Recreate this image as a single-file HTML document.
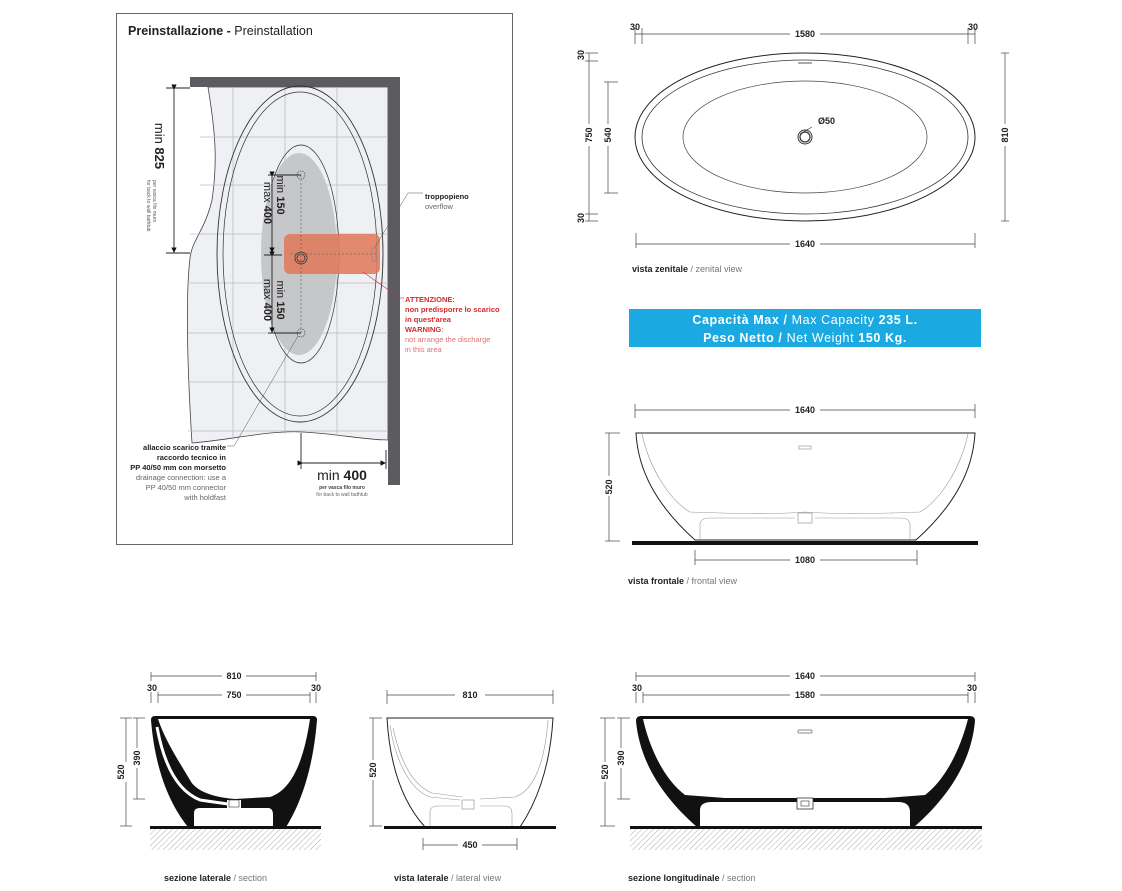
<!DOCTYPE html>
<html><head><meta charset="utf-8"><style>
html,body{margin:0;padding:0;background:#fff;}
svg{display:block;font-family:"Liberation Sans Narrow","Liberation Sans",sans-serif;}
.d{font-size:9px;fill:#222;font-weight:bold;}
.dl{stroke:#444;stroke-width:0.7;fill:none;}
.lab{font-size:9px;fill:#222;}
</style></head><body>
<svg width="1122" height="891" viewBox="0 0 1122 891">
<defs>
<pattern id="hat" patternUnits="userSpaceOnUse" width="4" height="4" patternTransform="rotate(45)">
<line x1="0" y1="0" x2="0" y2="4" stroke="#999" stroke-width="0.8"/>
</pattern>
<marker id="ar" markerWidth="6" markerHeight="6" refX="5" refY="3" orient="auto"><path d="M0,0 L6,3 L0,6 Z" fill="#111"/></marker>
</defs>

<!-- PREINSTALLATION -->
<rect x="116.5" y="13.5" width="396" height="531" fill="#fff" stroke="#666" stroke-width="1"/>
<text x="128" y="35" font-size="12.5" fill="#222"><tspan font-weight="bold">Preinstallazione - </tspan>Preinstallation</text>
<path d="M208,87 C215,130 218,160 212,200 C205,230 192,240 190,258 C185,300 188,380 192,443 C230,440 270,430 302,432 C340,434 365,440 388,440 L388,87 Z" fill="#eef0f3" stroke="#444" stroke-width="0.8"/>
<g stroke="#b8bcc2" stroke-width="0.8">
<line x1="233" y1="87" x2="233" y2="440"/><line x1="285" y1="87" x2="285" y2="434"/><line x1="337" y1="87" x2="337" y2="434"/>
<line x1="200" y1="137" x2="388" y2="137"/><line x1="200" y1="185" x2="388" y2="185"/><line x1="190" y1="234" x2="388" y2="234"/><line x1="188" y1="283" x2="388" y2="283"/><line x1="188" y1="333" x2="388" y2="333"/><line x1="188" y1="382" x2="388" y2="382"/><line x1="188" y1="431" x2="388" y2="431"/>
</g>
<rect x="190" y="77" width="210" height="10" fill="#5c5c60"/>
<rect x="388" y="77" width="12" height="408" fill="#5c5c60"/>
<ellipse cx="300" cy="254" rx="83" ry="168" fill="none" stroke="#333" stroke-width="0.9"/>
<ellipse cx="300" cy="254" rx="77" ry="162" fill="none" stroke="#333" stroke-width="0.7"/>
<ellipse cx="301" cy="254" rx="38" ry="109" fill="none" stroke="#333" stroke-width="0.7"/>
<ellipse cx="299" cy="254" rx="38" ry="101" fill="#c6c7c9"/>
<rect x="284" y="234" width="96" height="40" rx="6" fill="#e07a5c" opacity="0.88"/>
<line x1="301" y1="175" x2="301" y2="333" stroke="#555" stroke-width="0.6" stroke-dasharray="2,2"/>
<line x1="290" y1="254" x2="376" y2="254" stroke="#555" stroke-width="0.5" stroke-dasharray="2,2"/>
<rect x="372" y="248" width="4" height="13" fill="none" stroke="#888" stroke-width="0.6"/>
<circle cx="301" cy="258" r="6" fill="none" stroke="#333" stroke-width="0.8"/><circle cx="301" cy="258" r="4" fill="none" stroke="#333" stroke-width="0.8"/>
<circle cx="301" cy="175" r="4" fill="none" stroke="#333" stroke-width="0.6" stroke-dasharray="1.5,1"/>
<circle cx="301" cy="333" r="4" fill="none" stroke="#333" stroke-width="0.6" stroke-dasharray="1.5,1"/>
<g stroke="#222" stroke-width="0.9">
<line x1="268" y1="175" x2="301" y2="175"/><line x1="268" y1="333" x2="301" y2="333"/>
<line x1="272" y1="176" x2="272" y2="252" marker-end="url(#ar)" marker-start="url(#ar)"/>
<line x1="272" y1="256" x2="272" y2="332" marker-end="url(#ar)" marker-start="url(#ar)"/>
<line x1="264" y1="255" x2="282" y2="255"/>
<line x1="166" y1="88" x2="190" y2="88"/><line x1="166" y1="253" x2="190" y2="253"/>
<line x1="174" y1="89" x2="174" y2="252" marker-end="url(#ar)" marker-start="url(#ar)"/>
<line x1="301" y1="433" x2="301" y2="469"/><line x1="386" y1="450" x2="386" y2="469"/>
<line x1="302" y1="463" x2="385" y2="463" marker-end="url(#ar)" marker-start="url(#ar)"/>
</g>
<text transform="translate(277,195) rotate(90)" font-size="11" fill="#222" text-anchor="middle">min <tspan font-weight="bold">150</tspan></text>
<text transform="translate(264,203) rotate(90)" font-size="11" fill="#222" text-anchor="middle">max <tspan font-weight="bold">400</tspan></text>
<text transform="translate(277,300) rotate(90)" font-size="11" fill="#222" text-anchor="middle">min <tspan font-weight="bold">150</tspan></text>
<text transform="translate(264,300) rotate(90)" font-size="11" fill="#222" text-anchor="middle">max <tspan font-weight="bold">400</tspan></text>
<text transform="translate(155,146) rotate(90)" font-size="13" fill="#222" text-anchor="middle">min <tspan font-weight="bold">825</tspan></text>
<text transform="translate(153,180) rotate(90)" font-size="5" fill="#555">per vasca filo muro</text>
<text transform="translate(147,180) rotate(90)" font-size="5" fill="#555">for back to wall bathtub</text>
<text x="342" y="480" font-size="14" fill="#222" text-anchor="middle">min <tspan font-weight="bold">400</tspan></text>
<text x="342" y="489" font-size="5" fill="#444" text-anchor="middle" font-weight="bold">per vasca filo muro</text>
<text x="342" y="496" font-size="5" fill="#666" text-anchor="middle">for back to wall bathtub</text>
<line x1="423" y1="193" x2="408" y2="193" stroke="#555" stroke-width="0.5"/>
<line x1="408" y1="193" x2="375" y2="247" stroke="#555" stroke-width="0.5"/>
<text x="425" y="199" font-size="7.5" fill="#222" font-weight="bold">troppopieno</text>
<text x="425" y="209" font-size="7.5" fill="#666">overflow</text>
<line x1="404" y1="298" x2="400" y2="298" stroke="#c33" stroke-width="0.6"/>
<line x1="400" y1="298" x2="363" y2="272" stroke="#c33" stroke-width="0.6"/>
<g font-size="7.5">
<text x="405" y="302" fill="#d42a2a" font-weight="bold">ATTENZIONE:</text>
<text x="405" y="312" fill="#d42a2a" font-weight="bold">non predisporre lo scarico</text>
<text x="405" y="322" fill="#d42a2a" font-weight="bold">in quest'area</text>
<text x="405" y="332" fill="#d42a2a" font-weight="bold">WARNING<tspan font-weight="normal">:</tspan></text>
<text x="405" y="342" fill="#e07070">not arrange the discharge</text>
<text x="405" y="352" fill="#e07070">in this area</text>
</g>
<line x1="227" y1="446" x2="234" y2="446" stroke="#555" stroke-width="0.5"/>
<line x1="234" y1="446" x2="298" y2="336" stroke="#555" stroke-width="0.5"/>
<g font-size="7.5" text-anchor="end">
<text x="226" y="450" fill="#222" font-weight="bold">allaccio scarico tramite</text>
<text x="226" y="460" fill="#222" font-weight="bold">raccordo tecnico in</text>
<text x="226" y="470" fill="#222" font-weight="bold">PP 40/50 mm con morsetto</text>
<text x="226" y="480" fill="#666">drainage connection: use a</text>
<text x="226" y="490" fill="#666">PP 40/50 mm connector</text>
<text x="226" y="500" fill="#666">with holdfast</text>
</g>

<!-- ZENITAL VIEW -->
<g class="dl">
<line x1="635" y1="34" x2="975" y2="34"/>
<line x1="635" y1="28" x2="635" y2="44"/><line x1="642" y1="28" x2="642" y2="44"/><line x1="968" y1="28" x2="968" y2="44"/><line x1="975" y1="28" x2="975" y2="44"/>
<line x1="589" y1="53" x2="589" y2="221"/><line x1="585" y1="53" x2="598" y2="53"/><line x1="585" y1="61" x2="598" y2="61"/><line x1="585" y1="214" x2="598" y2="214"/><line x1="585" y1="221" x2="598" y2="221"/>
<line x1="608" y1="82" x2="608" y2="193"/><line x1="604" y1="82" x2="618" y2="82"/><line x1="604" y1="193" x2="618" y2="193"/>
<line x1="1005" y1="53" x2="1005" y2="221"/><line x1="1001" y1="53" x2="1009" y2="53"/><line x1="1001" y1="221" x2="1009" y2="221"/>
<line x1="636" y1="244" x2="975" y2="244"/><line x1="636" y1="233" x2="636" y2="248"/><line x1="975" y1="233" x2="975" y2="248"/>
<line x1="812" y1="127" x2="800" y2="134"/>
</g>
<rect x="790" y="28" width="30" height="10" fill="#fff"/><text x="805" y="37" class="d" text-anchor="middle">1580</text>
<text x="635" y="30" class="d" text-anchor="middle">30</text><text x="973" y="30" class="d" text-anchor="middle">30</text>
<rect x="583" y="124" width="12" height="22" fill="#fff"/><text transform="translate(592,135) rotate(-90)" class="d" text-anchor="middle">750</text>
<rect x="602" y="124" width="12" height="22" fill="#fff"/><text transform="translate(611,135) rotate(-90)" class="d" text-anchor="middle">540</text>
<text transform="translate(584,55) rotate(-90)" class="d" text-anchor="middle">30</text>
<text transform="translate(584,218) rotate(-90)" class="d" text-anchor="middle">30</text>
<rect x="999" y="124" width="12" height="22" fill="#fff"/><text transform="translate(1008,135) rotate(-90)" class="d" text-anchor="middle">810</text>
<ellipse cx="805" cy="137" rx="170" ry="84" fill="none" stroke="#222" stroke-width="1"/>
<ellipse cx="805" cy="137" rx="163" ry="77" fill="none" stroke="#333" stroke-width="0.8"/>
<ellipse cx="805" cy="137" rx="122" ry="56" fill="none" stroke="#444" stroke-width="0.7"/>
<rect x="798" y="62" width="14" height="2" fill="#aaa"/>
<circle cx="805" cy="137" r="7" fill="none" stroke="#333" stroke-width="1"/><circle cx="805" cy="137" r="5" fill="none" stroke="#333" stroke-width="1.2"/>
<text x="818" y="124" class="d">Ø50</text>
<rect x="790" y="238" width="30" height="10" fill="#fff"/><text x="805" y="247" class="d" text-anchor="middle">1640</text>
<text x="632" y="272" class="lab"><tspan font-weight="bold">vista zenitale</tspan><tspan fill="#777"> / zenital view</tspan></text>

<rect x="629" y="309" width="352" height="38" fill="#1aa9e1"/>
<text x="805" y="324" font-size="12.5" fill="#fff" text-anchor="middle" letter-spacing="0.6"><tspan font-weight="bold">Capacità Max / </tspan>Max Capacity <tspan font-weight="bold">235 L.</tspan></text>
<text x="805" y="342" font-size="12.5" fill="#fff" text-anchor="middle" letter-spacing="0.6"><tspan font-weight="bold">Peso Netto / </tspan>Net Weight <tspan font-weight="bold">150 Kg.</tspan></text>

<!-- FRONTAL VIEW -->
<g class="dl">
<line x1="635" y1="410" x2="975" y2="410"/><line x1="635" y1="404" x2="635" y2="418"/><line x1="975" y1="404" x2="975" y2="418"/>
<line x1="609" y1="433" x2="609" y2="541"/><line x1="605" y1="433" x2="620" y2="433"/><line x1="605" y1="541" x2="620" y2="541"/>
<line x1="695" y1="560" x2="917" y2="560"/><line x1="695" y1="550" x2="695" y2="565"/><line x1="917" y1="550" x2="917" y2="565"/>
</g>
<rect x="790" y="405" width="30" height="10" fill="#fff"/><text x="805" y="413" class="d" text-anchor="middle">1640</text>
<rect x="603" y="476" width="12" height="20" fill="#fff"/><text transform="translate(612,487) rotate(-90)" class="d" text-anchor="middle">520</text>
<rect x="790" y="555" width="30" height="10" fill="#fff"/><text x="805" y="563" class="d" text-anchor="middle">1080</text>
<path d="M636,433 L975,433 C973,470 955,505 916,540 L695,540 C656,505 638,470 636,433 Z" fill="#fff" stroke="#222" stroke-width="1"/>
<path d="M642,434 C650,470 670,500 690,512 C740,514 780,514 805,512 C830,514 870,514 920,512 C940,500 960,470 968,434" fill="none" stroke="#999" stroke-width="0.6"/>
<path d="M700,540 L700,525 Q700,518 710,518 L795,518 M815,518 L900,518 Q910,518 910,525 L910,540" fill="none" stroke="#999" stroke-width="0.6"/>
<rect x="798" y="513" width="14" height="10" fill="none" stroke="#888" stroke-width="0.6"/>
<rect x="799" y="446" width="12" height="3" fill="none" stroke="#888" stroke-width="0.6"/>
<rect x="632" y="541" width="346" height="4" fill="#111"/>
<text x="628" y="584" class="lab"><tspan font-weight="bold">vista frontale</tspan><tspan fill="#777"> / frontal view</tspan></text>

<!-- SEZIONE LATERALE -->
<g class="dl">
<line x1="151" y1="676" x2="316" y2="676"/><line x1="151" y1="672" x2="151" y2="681"/><line x1="316" y1="672" x2="316" y2="681"/>
<line x1="158" y1="695" x2="310" y2="695"/>
<line x1="151" y1="692" x2="151" y2="703"/><line x1="158" y1="692" x2="158" y2="703"/><line x1="310" y1="692" x2="310" y2="703"/><line x1="316" y1="692" x2="316" y2="703"/>
<line x1="126" y1="718" x2="126" y2="826"/><line x1="120" y1="718" x2="132" y2="718"/><line x1="120" y1="826" x2="132" y2="826"/>
<line x1="137" y1="718" x2="137" y2="799"/><line x1="133" y1="718" x2="145" y2="718"/><line x1="133" y1="799" x2="145" y2="799"/>
<line x1="252" y1="802" x2="252" y2="826"/>
</g>
<rect x="222" y="671" width="24" height="10" fill="#fff"/><text x="234" y="679" class="d" text-anchor="middle">810</text>
<rect x="222" y="690" width="24" height="10" fill="#fff"/><text x="234" y="698" class="d" text-anchor="middle">750</text>
<text x="152" y="691" class="d" text-anchor="middle">30</text><text x="316" y="691" class="d" text-anchor="middle">30</text>
<rect x="116" y="762" width="12" height="20" fill="#fff"/><text transform="translate(124,772) rotate(-90)" class="d" text-anchor="middle">520</text>
<rect x="131" y="748" width="12" height="20" fill="#fff"/><text transform="translate(140,758) rotate(-90)" class="d" text-anchor="middle">390</text>
<text transform="translate(260,816) rotate(-90)" class="d" text-anchor="middle">75</text>
<path d="M151,720 Q151,716 155,716 L313,716 Q317,716 317,720 C313,770 300,805 286,827 L188,827 C170,805 155,770 151,720 Z" fill="#111"/>
<path d="M158,719 L310,719 C304,760 292,790 270,797 L235,799 C210,797 195,790 190,780 C178,760 165,740 158,719 Z" fill="#fff"/>
<path d="M157,727 C163,760 175,790 200,800 L228,804" fill="none" stroke="#fff" stroke-width="3"/>
<path d="M194,827 L194,813 Q194,808 200,808 L227,808 L227,800 L241,800 L241,808 L268,808 Q273,808 273,815 L273,827 Z" fill="#fff"/>
<rect x="229" y="800" width="10" height="7" fill="#fff" stroke="#333" stroke-width="0.6"/>
<rect x="150" y="826" width="171" height="3" fill="#111"/>
<rect x="150" y="829" width="171" height="21" fill="url(#hat)"/>
<text x="164" y="881" class="lab"><tspan font-weight="bold">sezione laterale</tspan><tspan fill="#777"> / section</tspan></text>

<!-- VISTA LATERALE -->
<g class="dl">
<line x1="387" y1="695" x2="553" y2="695"/><line x1="387" y1="690" x2="387" y2="704"/><line x1="553" y1="690" x2="553" y2="704"/>
<line x1="373" y1="718" x2="373" y2="826"/><line x1="369" y1="718" x2="382" y2="718"/><line x1="369" y1="826" x2="382" y2="826"/>
<line x1="423" y1="845" x2="517" y2="845"/><line x1="423" y1="838" x2="423" y2="850"/><line x1="517" y1="838" x2="517" y2="850"/>
</g>
<rect x="455" y="690" width="30" height="10" fill="#fff"/><text x="470" y="698" class="d" text-anchor="middle">810</text>
<rect x="367" y="760" width="12" height="20" fill="#fff"/><text transform="translate(376,770) rotate(-90)" class="d" text-anchor="middle">520</text>
<rect x="458" y="840" width="24" height="10" fill="#fff"/><text x="470" y="848" class="d" text-anchor="middle">450</text>
<path d="M387,718 L553,718 C550,770 535,805 520,827 L425,827 C405,805 390,770 387,718 Z" fill="#fff" stroke="#222" stroke-width="1"/>
<path d="M390,725 C395,760 410,790 430,797 L460,800 M548,720 C545,760 535,790 515,797 L480,799" fill="none" stroke="#999" stroke-width="0.6"/>
<path d="M393,728 C400,760 412,785 432,793 L462,797" fill="none" stroke="#999" stroke-width="0.6"/>
<path d="M430,827 L430,812 Q430,806 438,806 L460,806 M480,806 L505,806 Q512,806 512,814 L512,827" fill="none" stroke="#999" stroke-width="0.6"/>
<rect x="462" y="800" width="12" height="9" fill="none" stroke="#888" stroke-width="0.6"/>
<rect x="384" y="826" width="172" height="3" fill="#111"/>
<text x="394" y="881" class="lab"><tspan font-weight="bold">vista laterale</tspan><tspan fill="#777"> / lateral view</tspan></text>

<!-- SEZIONE LONGITUDINALE -->
<g class="dl">
<line x1="636" y1="676" x2="975" y2="676"/><line x1="636" y1="672" x2="636" y2="681"/><line x1="975" y1="672" x2="975" y2="681"/>
<line x1="643" y1="695" x2="968" y2="695"/>
<line x1="636" y1="692" x2="636" y2="703"/><line x1="643" y1="692" x2="643" y2="703"/><line x1="968" y1="692" x2="968" y2="703"/><line x1="975" y1="692" x2="975" y2="703"/>
<line x1="605" y1="718" x2="605" y2="826"/><line x1="600" y1="718" x2="615" y2="718"/><line x1="600" y1="826" x2="615" y2="826"/>
<line x1="621" y1="718" x2="621" y2="799"/><line x1="617" y1="718" x2="630" y2="718"/><line x1="617" y1="799" x2="630" y2="799"/>
<line x1="822" y1="802" x2="822" y2="826"/>
</g>
<rect x="790" y="671" width="30" height="10" fill="#fff"/><text x="805" y="679" class="d" text-anchor="middle">1640</text>
<rect x="790" y="690" width="30" height="10" fill="#fff"/><text x="805" y="698" class="d" text-anchor="middle">1580</text>
<text x="637" y="691" class="d" text-anchor="middle">30</text><text x="972" y="691" class="d" text-anchor="middle">30</text>
<rect x="599" y="762" width="12" height="20" fill="#fff"/><text transform="translate(608,772) rotate(-90)" class="d" text-anchor="middle">520</text>
<rect x="615" y="748" width="12" height="20" fill="#fff"/><text transform="translate(624,758) rotate(-90)" class="d" text-anchor="middle">390</text>
<text transform="translate(830,816) rotate(-90)" class="d" text-anchor="middle">75</text>
<path d="M636,721 Q636,716 641,716 L970,716 Q975,716 975,721 C971,765 945,800 914,827 L697,827 C666,800 640,765 636,721 Z" fill="#111"/>
<path d="M643,719 L968,719 C960,750 945,780 925,795 L885,798 L725,798 L685,795 C665,780 650,750 643,719 Z" fill="#fff"/>
<path d="M700,827 L700,810 Q700,802 712,802 L797,802 L797,798 L813,798 L813,802 L898,802 Q910,802 910,812 L910,827 Z" fill="#fff"/>
<rect x="797" y="798" width="16" height="11" fill="#fff" stroke="#333" stroke-width="0.8"/>
<rect x="801" y="801" width="8" height="5" fill="none" stroke="#333" stroke-width="0.6"/>
<rect x="798" y="730" width="14" height="3" rx="1" fill="#fff" stroke="#666" stroke-width="0.7"/>
<rect x="630" y="826" width="352" height="3" fill="#111"/>
<rect x="630" y="829" width="352" height="21" fill="url(#hat)"/>
<text x="628" y="881" class="lab"><tspan font-weight="bold">sezione longitudinale</tspan><tspan fill="#777"> / section</tspan></text>
</svg>
</body></html>
